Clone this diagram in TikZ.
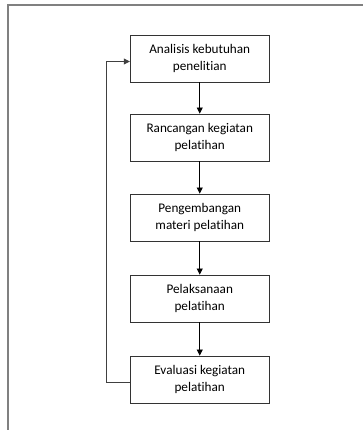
\documentclass[tikz,border=0pt]{standalone}
\usepackage{fontspec}
\setmainfont[RawFeature={-liga;-dlig;-clig}]{Carlito}
\usetikzlibrary{arrows.meta}
\begin{document}
\begin{tikzpicture}[x=1pt,y=-1pt,
  stepbox/.style={draw=black!80,line width=0.9pt,minimum width=139pt,minimum height=47pt,inner sep=0pt,align=center,font=\fontsize{13.2}{16.5}\selectfont,text=black},
  conn/.style={draw=black,line width=0.8pt,-{Triangle[length=6pt,width=6pt]}},
  frame/.style={draw=black!50,line width=1.2pt}]
\useasboundingbox (0,0) rectangle (363,430);
\fill[white] (0,0) rectangle (363,430);
\coordinate (ftop) at (8,5);
\coordinate (fright) at (364,5);
\coordinate (fbot) at (8,431);
\draw[frame] (fright) -- (ftop) -- (fbot);
\node[stepbox] (b1) at (199.75,58.5) {Analisis kebutuhan\\penelitian};
\node[stepbox] (b2) at (199.75,137.5) {Rancangan kegiatan\\pelatihan};
\node[stepbox] (b3) at (199.75,217.5) {Pengembangan\\materi pelatihan};
\node[stepbox] (b4) at (199.75,298.5) {Pelaksanaan\\pelatihan};
\node[stepbox] (b5) at (199.75,379.5) {Evaluasi kegiatan\\pelatihan};
\draw[conn] (b1) -- (b2);
\draw[conn] (b2) -- (b3);
\draw[conn] (b3) -- (b4);
\draw[conn] (b4) -- (b5);
\coordinate (fbx) at (106,0);
\coordinate (fbstart) at ([yshift=-2.5pt]b5.west);
\coordinate (fbend) at ([yshift=-3pt]b1.west);
\draw[conn,draw=black!75] (fbstart) -- (fbx |- fbstart) -- (fbx |- fbend) -- (fbend);
\end{tikzpicture}
\end{document}
